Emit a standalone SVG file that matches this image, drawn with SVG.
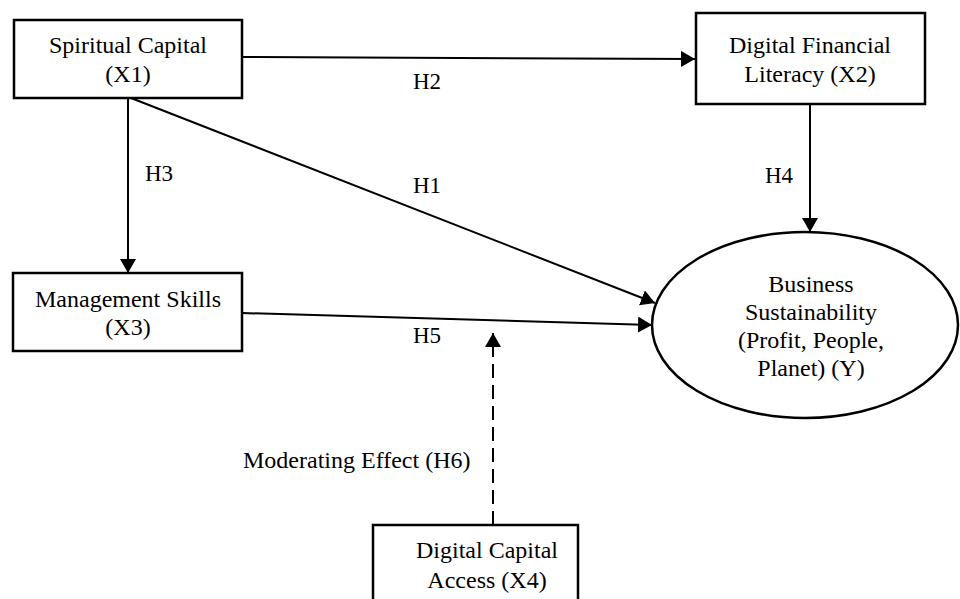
<svg xmlns="http://www.w3.org/2000/svg" width="960" height="599" viewBox="0 0 960 599">
<style>
.box{fill:#fff;stroke:#000;stroke-width:2.5}
.t{font-family:"Liberation Serif","Times New Roman",serif;font-size:24px;fill:#000}
.h{font-size:23px}
.m{text-anchor:middle}
.c{fill:none;stroke:#000;stroke-width:2}
</style>
<defs>
<marker id="ah" viewBox="0 0 14 16" refX="14" refY="8" markerWidth="14" markerHeight="16" markerUnits="userSpaceOnUse" orient="auto">
<path d="M0,0 L14,8 L0,16 z" fill="#000"/>
</marker>
</defs>
<rect width="960" height="599" fill="#fff"/>
<g id="connectors">
<line class="c" x1="242" y1="57" x2="695" y2="59" marker-end="url(#ah)"/>
<line class="c" x1="131" y1="98" x2="655" y2="303" marker-end="url(#ah)"/>
<line class="c" x1="128" y1="98" x2="128" y2="273" marker-end="url(#ah)"/>
<line class="c" x1="810" y1="104" x2="810" y2="232" marker-end="url(#ah)"/>
<line class="c" x1="242" y1="313" x2="652" y2="325" marker-end="url(#ah)"/>
<line class="c" x1="493" y1="525" x2="493" y2="333" stroke-dasharray="14 7" marker-end="url(#ah)"/>
<text class="t h" x="413" y="89">H2</text>
<text class="t h" x="413" y="193">H1</text>
<text class="t h" x="145" y="181">H3</text>
<text class="t h" x="765" y="183">H4</text>
<text class="t h" x="413" y="343">H5</text>
<text class="t" x="243" y="468">Moderating Effect (H6)</text>
</g>
<g id="x1">
<rect class="box" x="14" y="20" width="228" height="78"/>
<text class="t m" x="128" y="53">Spiritual Capital</text>
<text class="t m" x="128" y="82">(X1)</text>
</g>
<g id="x2">
<rect class="box" x="696" y="13" width="229" height="91"/>
<text class="t m" x="810" y="53">Digital Financial</text>
<text class="t m" x="810" y="82">Literacy (X2)</text>
</g>
<g id="x3">
<rect class="box" x="13" y="273" width="229" height="78"/>
<text class="t m" x="128" y="307">Management Skills</text>
<text class="t m" x="128" y="335">(X3)</text>
</g>
<g id="x4">
<rect class="box" x="373" y="525" width="205" height="82"/>
<text class="t m" x="487" y="558">Digital Capital</text>
<text class="t m" x="487" y="588">Access (X4)</text>
</g>
<g id="y">
<ellipse class="box" cx="805" cy="325" rx="153" ry="93"/>
<text class="t m" x="811" y="292">Business</text>
<text class="t m" x="811" y="320">Sustainability</text>
<text class="t m" x="811" y="348">(Profit, People,</text>
<text class="t m" x="811" y="376">Planet) (Y)</text>
</g>
</svg>
